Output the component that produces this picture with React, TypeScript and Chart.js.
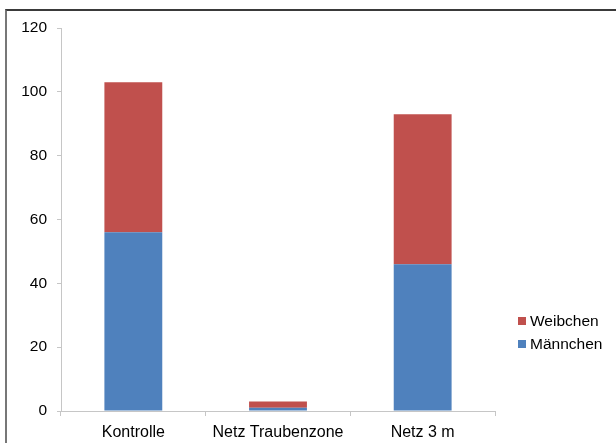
import React, { useEffect, useRef } from "react";
import { Chart, registerables } from "chart.js";

Chart.register(...registerables);

const categories = ["Kontrolle", "Netz Traubenzone", "Netz 3 m"];
const maennchen = [56, 1, 46];
const weibchen = [47, 2, 47];
const yTicks = [0, 20, 40, 60, 80, 100, 120];
const seriesLabels = ["Männchen", "Weibchen"];
const seriesColors = ["#4F81BD", "#C0504D"];

const FONT_FAMILY = '"Liberation Sans", Arial, sans-serif';
const AXIS_COLOR = "#c6c6c6";

const sideLegend = {
  id: "sideLegend",
  afterDraw(chart: any) {
    const ctx = chart.ctx;
    const area = chart.chartArea;
    const items = chart.data.datasets.slice().reverse();
    ctx.save();
    ctx.font = `15.5px ${FONT_FAMILY}`;
    ctx.textBaseline = "middle";
    ctx.textAlign = "left";
    items.forEach((d: any, i: number) => {
      const cy = 321 + i * 23;
      const x = area.right + 23;
      ctx.fillStyle = d.backgroundColor;
      ctx.fillRect(x, cy - 4, 8, 8);
      ctx.fillStyle = "#000";
      ctx.fillText(d.label, x + 12, cy + 1);
    });
    ctx.restore();
  },
};

export default function App() {
  const ref = useRef<HTMLCanvasElement | null>(null);

  useEffect(() => {
    if (!ref.current) return;
    const chart = new Chart(ref.current, {
      type: "bar",
      data: {
        labels: categories,
        datasets: [
          {
            label: seriesLabels[0],
            data: maennchen,
            backgroundColor: seriesColors[0],
            borderWidth: 0,
          },
          {
            label: seriesLabels[1],
            data: weibchen,
            backgroundColor: seriesColors[1],
            borderWidth: 0,
          },
        ],
      },
      options: {
        responsive: false,
        animation: false,
        devicePixelRatio: 1,
        layout: { padding: { top: 28, right: 121, bottom: 0, left: 0 } },
        plugins: {
          legend: { display: false },
          tooltip: { enabled: false },
        },
        datasets: {
          bar: { categoryPercentage: 1, barPercentage: 0.4 },
        },
        scales: {
          x: {
            stacked: true,
            afterFit(scale: any) {
              scale.height = 32;
            },
            grid: {
              offset: true,
              drawOnChartArea: false,
              drawTicks: true,
              tickLength: 5,
              color: AXIS_COLOR,
            },
            border: { display: true, color: AXIS_COLOR, width: 1 },
            ticks: {
              color: "#000",
              padding: 7,
              font: { family: FONT_FAMILY, size: 16 },
            },
          },
          y: {
            stacked: true,
            min: yTicks[0],
            max: yTicks[yTicks.length - 1],
            afterFit(scale: any) {
              scale.width = 61;
            },
            afterBuildTicks(scale: any) {
              scale.ticks = yTicks.map((v) => ({ value: v }));
            },
            grid: {
              drawOnChartArea: false,
              drawTicks: true,
              tickLength: 4,
              color: AXIS_COLOR,
            },
            border: { display: true, color: AXIS_COLOR, width: 1 },
            ticks: {
              color: "#000",
              padding: 10,
              font: { family: FONT_FAMILY, size: 15.5 },
            },
          },
        },
      },
      plugins: [sideLegend],
    });
    return () => chart.destroy();
  }, []);

  return (
    <div
      style={{
        position: "fixed",
        left: 0,
        top: 0,
        width: 616,
        height: 443,
        overflow: "hidden",
        background: "#fff",
      }}
    >
      <canvas
        ref={ref}
        width={616}
        height={443}
        style={{ position: "absolute", left: 0, top: 0, width: 616, height: 443 }}
      />
      <div
        style={{
          position: "absolute",
          left: 5,
          top: 9,
          width: 700,
          height: 600,
          borderTop: "2px solid #3a3a3a",
          borderLeft: "2px solid #777",
          pointerEvents: "none",
        }}
      />
    </div>
  );
}
